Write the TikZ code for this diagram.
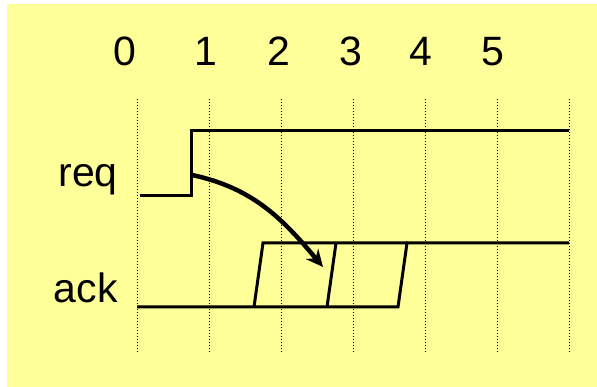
\documentclass[tikz,border=0pt]{standalone}
\usepackage{fontspec}
\setmainfont{Liberation Sans}
\usepackage{tikz}
\usetikzlibrary{arrows.meta}
\definecolor{mSlideYellow}{HTML}{FFFF99}
\tikzset{
 wave/.style={line width=3pt, line join=miter},
 gridline/.style={line width=1pt, dash pattern=on 1pt off 2pt},
 signame/.style={font=\fontsize{41}{48}\selectfont, anchor=base east, inner sep=0pt},
 ticknum/.style={font=\fontsize{41}{48}\selectfont, anchor=base, inner sep=0pt},
}
% dotted time line at #1, its number at #2
\newcommand{\tnode}[4]{%
 \draw[gridline] (#1,99) -- (#1,352);%
 \node[ticknum] (#3) at (#2,66) {#4};}

\begin{document}
\begin{tikzpicture}[x=1pt,y=-1pt]
\useasboundingbox (0,0) rectangle (597,387);
\fill[mSlideYellow] (7,4) rectangle (597,387);
\tnode{137}{125}{t0}{0}
\tnode{209}{206}{t1}{1}
\tnode{281}{279}{t2}{2}
\tnode{353}{351}{t3}{3}
\tnode{425}{421}{t4}{4}
\tnode{497}{493}{t5}{5}
\draw[gridline] (569,99) -- (569,352);
\node[signame] (req) at (118,187) {req};
\node[signame] (ack) at (118,302) {ack};
% req goes up once
\draw[wave] (140,196) -- (191,196) -- (191,131) -- (569,131);
% ack goes up somewhere in a window
\draw[wave] (137,307) -- (398,307) -- (407,243) -- (569,243);
\draw[wave] (254,307) -- (263,243) -- (407,243);
\draw[wave] (327,307) -- (336,243);
\coordinate (reqrise) at (192,175);
\coordinate (ackwin) at (323,267);
\draw[-{Stealth[length=17pt,width=16pt]}, line width=4.5pt] (reqrise) to[out=-12,in=130] (ackwin);
\end{tikzpicture}
\end{document}
